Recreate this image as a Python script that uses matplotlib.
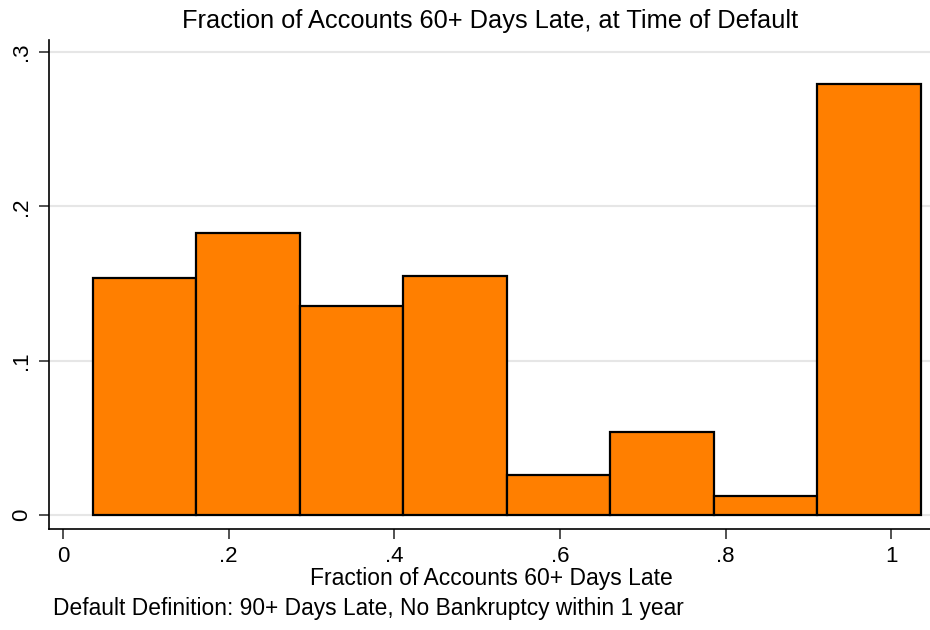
import numpy as np
import matplotlib.pyplot as plt

plt.rcParams['font.family'] = ['Liberation Sans', 'DejaVu Sans']

# histogram bins (left edges) and fractions
bin_width = 0.125
bin_left = [0.036, 0.161, 0.286, 0.411, 0.536, 0.661, 0.786, 0.911]
fraction = [0.1535, 0.1825, 0.1357, 0.1548, 0.0260, 0.0537, 0.0122, 0.2795]

x_ticks = [0, 0.2, 0.4, 0.6, 0.8, 1.0]
x_labels = ['0', '.2', '.4', '.6', '.8', '1']
y_ticks = [0, 0.1, 0.2, 0.3]
y_labels = ['0', '.1', '.2', '.3']

fig = plt.figure(figsize=(9.3, 6.3), dpi=100)
ax = fig.add_axes([0.0527, 0.160, 0.950, 0.777])

ax.set_axisbelow(True)
ax.yaxis.grid(True, color='#e6e6e6', linewidth=1.5)
ax.bar(bin_left, fraction, width=bin_width, align='edge',
       color='#ff7f00', edgecolor='black', linewidth=1.6)

ax.set_xlim(-0.017, 1.05)
ax.set_ylim(-0.0091, 0.308)
ax.set_xticks(x_ticks)
ax.set_xticklabels(x_labels, fontsize=16)
ax.set_yticks(y_ticks)
ax.set_yticklabels(y_labels, fontsize=16, rotation=90, va='center')
ax.tick_params(axis='both', length=7, width=1.2, color='#333333')
ax.tick_params(axis='x', pad=5)
ax.tick_params(axis='y', pad=5)

for side in ['top', 'right']:
    ax.spines[side].set_visible(False)
for side in ['left', 'bottom']:
    ax.spines[side].set_linewidth(1.2)

fig.text(0.527, 0.966, 'Fraction of Accounts 60+ Days Late, at Time of Default',
         ha='center', va='center', fontsize=18.3)
fig.text(0.528, 0.082, 'Fraction of Accounts 60+ Days Late',
         ha='center', va='center', fontsize=16.5)
fig.text(0.057, 0.034, 'Default Definition: 90+ Days Late, No Bankruptcy within 1 year',
         ha='left', va='center', fontsize=16.4)

plt.savefig('out.png', dpi=100)
